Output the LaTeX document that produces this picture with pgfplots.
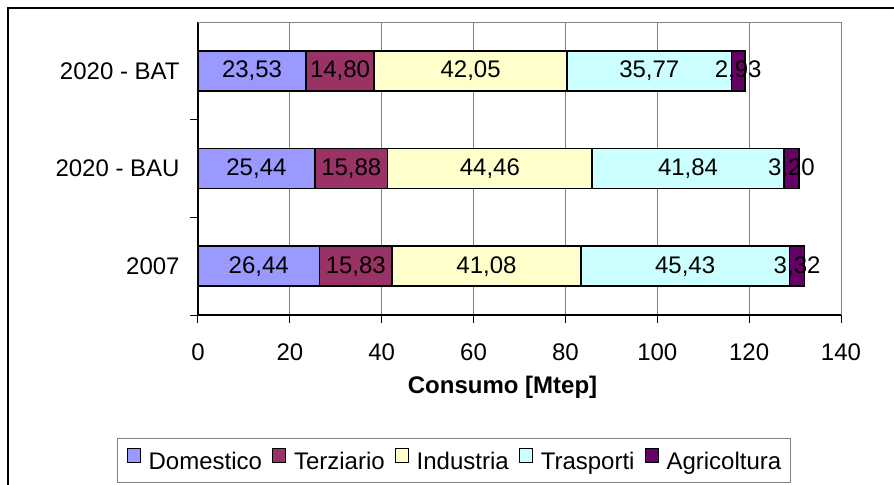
\documentclass[border=0pt]{standalone}
\usepackage{fontspec}
\setmainfont{Liberation Sans}
\usepackage{pgfplots}
\pgfplotsset{compat=1.18}

\definecolor{domestico}{HTML}{9999FF}
\definecolor{terziario}{HTML}{993366}
\definecolor{industria}{HTML}{FFFFCC}
\definecolor{trasporti}{HTML}{CCFFFF}
\definecolor{agricoltura}{HTML}{660066}
\definecolor{gridgray}{HTML}{808080}
\newcommand\f{\fontsize{12}{14.4}\selectfont}

\pgfplotsset{
  seg/.style={fill=#1, draw=black, line width=0.7pt,
    legend image code/.code={\draw[fill=#1, draw=black, line width=0.5pt] (0pt,0pt) rectangle (6.5pt,7pt);}},
}

\begin{document}
\begin{tikzpicture}
\useasboundingbox (0,0) rectangle (447pt,242pt);
% chart frame (cut off right and bottom)
\draw[line width=1pt] (4.15pt,-10pt) -- (4.15pt,237.85pt) -- (460pt,237.85pt);
\begin{axis}[
  at={(99pt,84.5pt)}, anchor=south west,
  scale only axis, width=321.5pt, height=146.5pt,
  xbar stacked, bar width=20pt,
  xmin=0, xmax=140, ymin=-0.5, ymax=2.5,
  xtick={0,20,...,140},
  ytick={-0.5,0.5,1.5}, yticklabels={,,},
  extra y ticks={0,1,2},
  extra y tick labels={2007,2020 - BAU,2020 - BAT},
  extra y tick style={major tick length=0pt,
    yticklabel style={anchor=east, inner sep=0pt, xshift=-9pt}},
  axis lines=left, axis line style={-, black, line width=0.6pt},
  tick align=outside, major tick length=4pt,
  tick style={black, line width=0.5pt},
  xmajorgrids, grid style={gridgray, line width=0.5pt},
  tick label style={font=\f},
  xticklabel style={anchor=north, inner sep=0pt, yshift=-10pt},
  /pgf/number format/assume math mode=true,
  xlabel={Consumo [Mtep]},
  xlabel style={at={(axis description cs:0.4736,-0.2662)}, anchor=base, font=\f\bfseries},
  legend columns=5,
  legend style={at={(axis description cs:0.3981,-0.4966)}, anchor=center,
    draw=gridgray, line width=0.5pt, font=\f, inner xsep=4.5pt, inner ysep=5pt,
    nodes={inner sep=0pt},
    /tikz/every odd column/.append style={column sep=4pt},
    /tikz/every even column/.append style={column sep=5pt}},
  legend cell align=left,
  % value labels centred in each segment
  nodes near coords={\pgfmathprintnumber[use comma,fixed,fixed zerofill,precision=2]{\pgfplotspointmeta}},
  every node near coord/.style={anchor=center, font=\f, inner sep=0pt, black},
]
\addplot[seg=domestico] coordinates {(26.44,0) (25.44,1) (23.53,2)};
\addplot[seg=terziario] coordinates {(15.83,0) (15.88,1) (14.80,2)};
\addplot[seg=industria] coordinates {(41.08,0) (44.46,1) (42.05,2)};
\addplot[seg=trasporti] coordinates {(45.43,0) (41.84,1) (35.77,2)};
\addplot[seg=agricoltura] coordinates {(3.32,0) (3.20,1) (2.93,2)};
\legend{Domestico,Terziario,Industria,Trasporti,Agricoltura}
\draw[gridgray, line width=0.5pt] ([xshift=-4pt]rel axis cs:0,1) -- (rel axis cs:1,1);
\end{axis}
\end{tikzpicture}
\end{document}
